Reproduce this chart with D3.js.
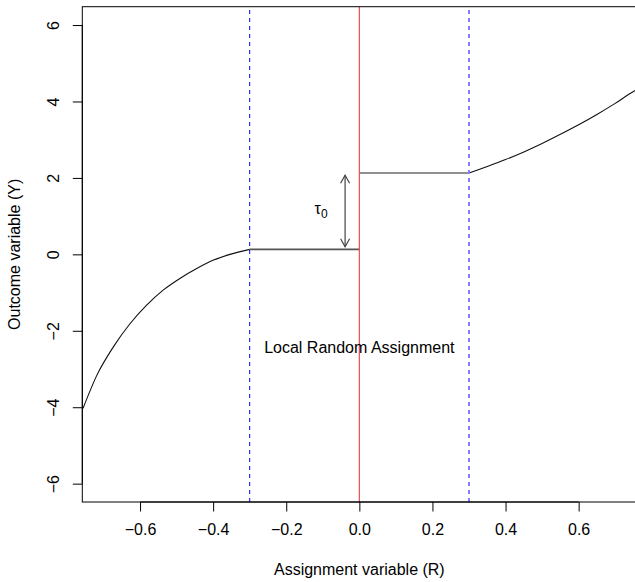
<!DOCTYPE html>
<meta charset="utf-8">
<style>
  body { margin: 0; background: #fff; }
  text { font-family: "Liberation Sans", Arial, sans-serif; fill: #000; }
</style>
<body>
<script src="https://cdn.jsdelivr.net/npm/d3@7"></script>
<script>

    var width = 635,
        height = 582;

    // values
    var xTicks = [-0.6, -0.4, -0.2, 0.0, 0.2, 0.4, 0.6];
    var yTicks = [-6, -4, -2, 0, 2, 4, 6];

    var leftR = [-0.756, -0.718, -0.673, -0.627, -0.582, -0.536, -0.491, -0.445, -0.399, -0.354, -0.30];
    var leftY = [-4.03, -3.16, -2.42, -1.81, -1.33, -0.93, -0.63, -0.37, -0.15, 0.00, 0.13];

    var rightR = [0.30, 0.35, 0.40, 0.45, 0.50, 0.55, 0.60, 0.65, 0.70, 0.75, 0.758];
    var rightY = [2.13, 2.30, 2.48, 2.68, 2.90, 3.14, 3.39, 3.66, 3.95, 4.26, 4.30];

    var controlLevel = 0.13,
        treatLevel = 2.13;
    var cutoff = 0,
        bandLow = -0.3,
        bandHigh = 0.3;
    var tauR = -0.039,
        tauFrom = 0.20,
        tauTo = 2.07;

    var x = d3.scaleLinear().domain([-0.758, 0.758]).range([82.3, 636.4]);
    var y = d3.scaleLinear().domain([-6.48, 6.48]).range([502, 6.7]);

    var svg = d3.select("body").append("svg")
            .attr("width", width)
            .attr("height", height);

    var defs = svg.append("defs");
    defs.append("clipPath").attr("id", "plotclip")
        .append("rect")
        .attr("x", x.range()[0]).attr("y", y.range()[1])
        .attr("width", x.range()[1] - x.range()[0])
        .attr("height", y.range()[0] - y.range()[1]);

    var plot = svg.append("g").attr("clip-path", "url(#plotclip)");

    var line = d3.line()
            .x(function(d) { return x(d[0]); })
            .y(function(d) { return y(d[1]); })
            .curve(d3.curveMonotoneX);

    // left curve
    plot.append("path")
        .attr("d", line(d3.zip(leftR, leftY)))
        .attr("fill", "none").attr("stroke", "#111").attr("stroke-width", 1.1);

    // flat parts
    plot.append("line")
        .attr("x1", x(bandLow)).attr("x2", x(cutoff))
        .attr("y1", y(controlLevel)).attr("y2", y(controlLevel))
        .attr("stroke", "#555").attr("stroke-width", 1.6);
    plot.append("line")
        .attr("x1", x(cutoff)).attr("x2", x(bandHigh))
        .attr("y1", y(treatLevel)).attr("y2", y(treatLevel))
        .attr("stroke", "#222").attr("stroke-width", 1.1);

    // right curve
    plot.append("path")
        .attr("d", line(d3.zip(rightR, rightY)))
        .attr("fill", "none").attr("stroke", "#111").attr("stroke-width", 1.1);

    // vertical lines
    plot.append("line")
        .attr("x1", x(bandLow)).attr("x2", x(bandLow))
        .attr("y1", y.range()[0]).attr("y2", y.range()[1])
        .attr("stroke", "#0000ff").attr("stroke-width", 1)
        .attr("stroke-dasharray", "4,4");
    plot.append("line")
        .attr("x1", x(bandHigh)).attr("x2", x(bandHigh))
        .attr("y1", y.range()[0]).attr("y2", y.range()[1])
        .attr("stroke", "#8080ff").attr("stroke-width", 2)
        .attr("stroke-dasharray", "4,4");
    plot.append("line")
        .attr("x1", x(cutoff)).attr("x2", x(cutoff))
        .attr("y1", y.range()[0]).attr("y2", y.range()[1])
        .attr("stroke", "#ee4c4c").attr("stroke-width", 1.2);

    // tau arrow
    var ax = x(tauR), ay1 = y(tauTo), ay2 = y(tauFrom);
    var arrow = svg.append("g").attr("fill", "none").attr("stroke", "#444").attr("stroke-width", 1.2);
    arrow.append("line").attr("x1", ax).attr("x2", ax).attr("y1", ay1).attr("y2", ay2);
    arrow.append("path").attr("d", "M" + (ax - 4.5) + "," + (ay1 + 8) + "L" + ax + "," + ay1 + "L" + (ax + 4.5) + "," + (ay1 + 8));
    arrow.append("path").attr("d", "M" + (ax - 4.5) + "," + (ay2 - 8) + "L" + ax + "," + ay2 + "L" + (ax + 4.5) + "," + (ay2 - 8));

    var tau = svg.append("text")
        .attr("x", x(tauR) - 24).attr("y", y((tauFrom + tauTo) / 2) + 3)
        .attr("text-anchor", "middle").style("font-size", "16px");
    tau.append("tspan").text("τ");
    tau.append("tspan").attr("dy", 4).style("font-size", "12px").text("0");

    svg.append("text")
        .attr("x", x(0)).attr("y", y(-2.57))
        .attr("text-anchor", "middle").style("font-size", "16px")
        .text("Local Random Assignment");

    // box
    svg.append("rect")
        .attr("x", x.range()[0]).attr("y", y.range()[1])
        .attr("width", x.range()[1] - x.range()[0])
        .attr("height", y.range()[0] - y.range()[1])
        .attr("fill", "none").attr("stroke", "#000").attr("stroke-width", 1);

    // axes
    var xAxis = svg.append("g")
        .attr("transform", "translate(0," + y.range()[0] + ")")
        .call(d3.axisBottom(x).tickValues(xTicks).tickFormat(d3.format(".1f")).tickSize(9.5).tickPadding(12));
    xAxis.select(".domain").attr("d", "M" + x(xTicks[0]) + ",0H" + x(xTicks[xTicks.length - 1]));
    xAxis.selectAll("text").style("font-size", "16px").style("font-family", "Liberation Sans, Arial, sans-serif");

    var yAxis = svg.append("g")
        .attr("transform", "translate(" + x.range()[0] + ",0)")
        .call(d3.axisLeft(y).tickValues(yTicks).tickFormat(d3.format("d")).tickSize(9.5));
    yAxis.select(".domain").attr("d", "M0," + y(yTicks[0]) + "V" + y(yTicks[yTicks.length - 1]));
    yAxis.selectAll(".tick text")
        .attr("x", null).attr("dy", null)
        .attr("text-anchor", "middle")
        .attr("transform", "translate(-29,0) rotate(-90)")
        .attr("dy", "0.35em")
        .style("font-size", "16px").style("font-family", "Liberation Sans, Arial, sans-serif");

    svg.append("text")
        .attr("x", x(0)).attr("y", 575)
        .attr("text-anchor", "middle").style("font-size", "16px")
        .text("Assignment variable (R)");

    svg.append("text")
        .attr("transform", "translate(20," + y(0) + ") rotate(-90)")
        .attr("text-anchor", "middle").style("font-size", "16px")
        .text("Outcome variable (Y)");

</script>
